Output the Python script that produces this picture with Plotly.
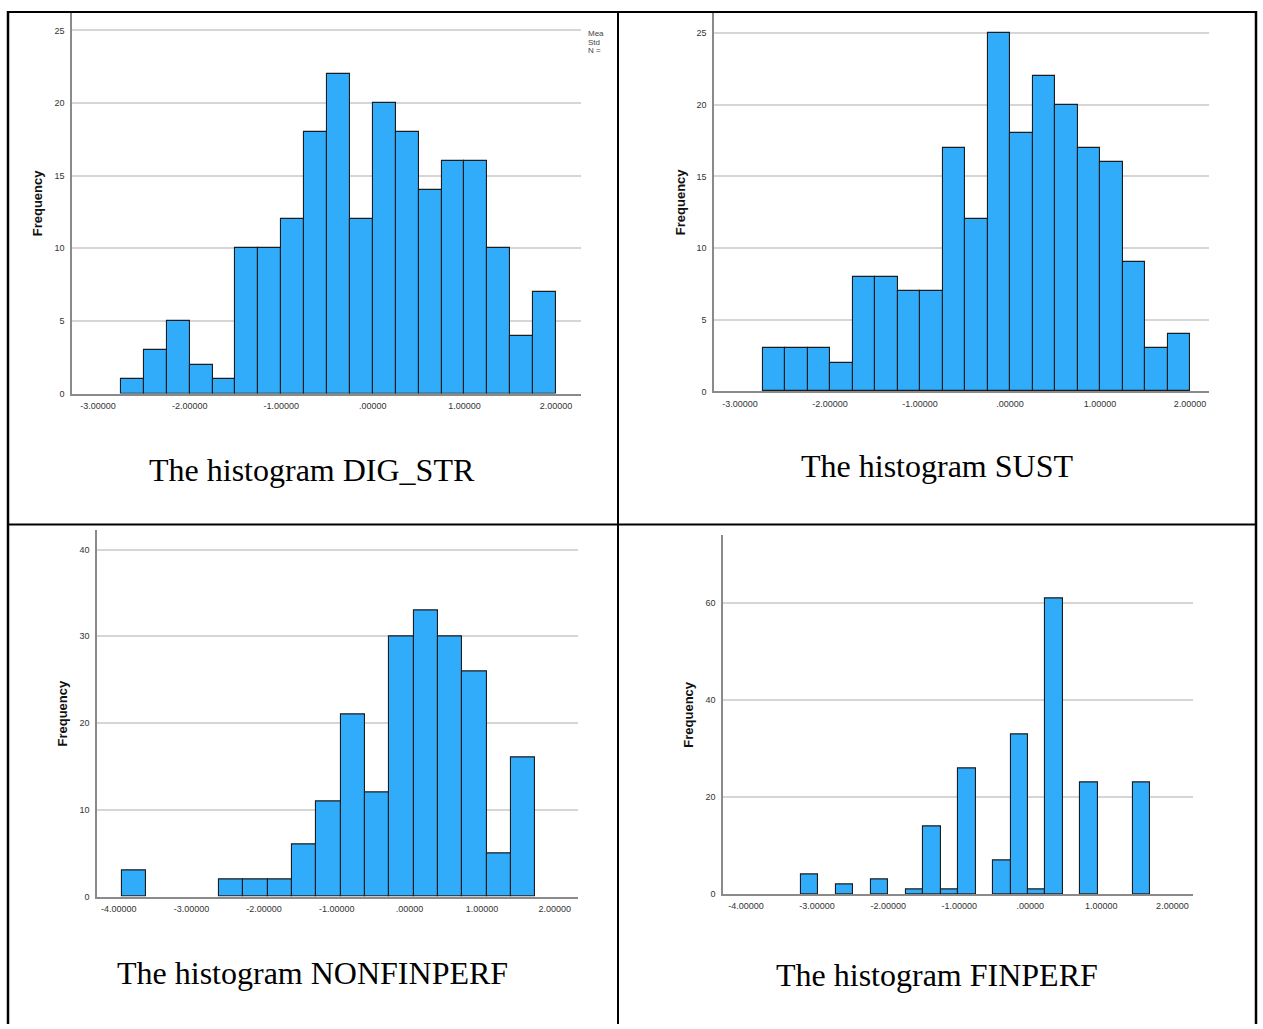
import plotly.graph_objects as go

# ---------------- data ----------------
dig_bin_left = [-2.75, -2.5, -2.25, -2.0, -1.75, -1.5, -1.25, -1.0, -0.75, -0.5,
                -0.25, 0.0, 0.25, 0.5, 0.75, 1.0, 1.25, 1.5, 1.75]
dig_counts = [1, 3, 5, 2, 1, 10, 10, 12, 18, 22, 12, 20, 18, 14, 16, 16, 10, 4, 7]
dig_width = 0.25

sust_bin_left = [-2.75, -2.5, -2.25, -2.0, -1.75, -1.5, -1.25, -1.0, -0.75, -0.5,
                 -0.25, 0.0, 0.25, 0.5, 0.75, 1.0, 1.25, 1.5, 1.75]
sust_counts = [3, 3, 3, 2, 8, 8, 7, 7, 17, 12, 25, 18, 22, 20, 17, 16, 9, 3, 4]
sust_width = 0.25

nonfin_bin_left = [-3.96, -3.625, -3.29, -2.955, -2.62, -2.285, -1.95, -1.615, -1.28,
                   -0.945, -0.61, -0.275, 0.06, 0.395, 0.73, 1.065, 1.40]
nonfin_counts = [3, 0, 0, 0, 2, 2, 2, 6, 11, 21, 12, 30, 33, 30, 26, 5, 16]
nonfin_width = 0.335

fin_bin_left = [-3.23, -2.984, -2.738, -2.492, -2.246, -2.0, -1.754, -1.508, -1.262, -1.016,
                -0.77, -0.524, -0.278, -0.032, 0.214, 0.46, 0.706, 0.952, 1.198, 1.444]
fin_counts = [4, 0, 2, 0, 3, 0, 1, 14, 1, 26, 0, 7, 33, 1, 61, 0, 23, 0, 0, 23]
fin_width = 0.246

x_tick_vals_a = [-3, -2, -1, 0, 1, 2]
x_tick_text_a = ["-3.00000", "-2.00000", "-1.00000", ".00000", "1.00000", "2.00000"]
x_tick_vals_b = [-4, -3, -2, -1, 0, 1, 2]
x_tick_text_b = ["-4.00000", "-3.00000", "-2.00000", "-1.00000", ".00000", "1.00000", "2.00000"]

captions = ["The histogram DIG_STR", "The histogram SUST",
            "The histogram NONFINPERF", "The histogram FINPERF"]
y_label = "Frequency"
legend_stub = ["Mea", "Std", "N ="]

# ---------------- layout helpers ----------------
W, H = 1263, 1029


def fx(px):
    return px / W


def fy(py):
    return 1 - py / H


BAR_COLOR = "#30ACFA"
BAR_LINE = "#1c1c1c"
AXIS_COLOR = "#8a8a8a"
GRID_COLOR = "#d6d6d6"
TICK_FONT = dict(family="Liberation Sans, Arial, sans-serif", size=9, color="#333333")

panels = [
    dict(left=dig_bin_left, counts=dig_counts, w=dig_width,
         px=(72, 581), py=(13, 395.5), xr=[-3.285, 2.273], yr=[0, 26.2], dt=5,
         tv=x_tick_vals_a, tt=x_tick_text_a, ylab_x=37, cap=(312, 472)),
    dict(left=sust_bin_left, counts=sust_counts, w=sust_width,
         px=(714, 1209), py=(13, 393.3), xr=[-3.29, 2.21], yr=[0, 26.4], dt=5,
         tv=x_tick_vals_a, tt=x_tick_text_a, ylab_x=680, cap=(937, 468)),
    dict(left=nonfin_bin_left, counts=nonfin_counts, w=nonfin_width,
         px=(97, 578), py=(533, 901), xr=[-4.30, 2.32], yr=[0, 42.2], dt=10,
         tv=x_tick_vals_b, tt=x_tick_text_b, ylab_x=63, cap=(312, 978)),
    dict(left=fin_bin_left, counts=fin_counts, w=fin_width,
         px=(723, 1193), py=(538, 898.3), xr=[-4.324, 2.29], yr=[0, 74], dt=20,
         tv=x_tick_vals_b, tt=x_tick_text_b, ylab_x=689, cap=(937, 980)),
]

fig = go.Figure()
layout = dict(
    width=W, height=H,
    margin=dict(l=0, r=0, t=0, b=0),
    paper_bgcolor="white", plot_bgcolor="white",
    showlegend=False, bargap=0,
)
annotations = []
shapes = []

for i, p in enumerate(panels, start=1):
    xs = [x for x, c in zip(p["left"], p["counts"]) if c > 0]
    ys = [c for c in p["counts"] if c > 0]
    sfx = "" if i == 1 else str(i)
    fig.add_trace(go.Bar(
        x=xs, y=ys, width=p["w"], offset=0,
        xaxis="x" + sfx, yaxis="y" + sfx,
        marker=dict(color=BAR_COLOR, line=dict(color=BAR_LINE, width=1.1)),
        hoverinfo="x+y",
    ))
    layout["xaxis" + sfx] = dict(
        domain=[fx(p["px"][0]), fx(p["px"][1])],
        anchor="y" + sfx, range=p["xr"],
        tickvals=p["tv"], ticktext=p["tt"],
        showgrid=False, zeroline=False,
        showline=True, linecolor=AXIS_COLOR, linewidth=1.5,
        ticks="", tickfont=TICK_FONT, ticklabelstandoff=3,
    )
    layout["yaxis" + sfx] = dict(
        domain=[fy(p["py"][1]), fy(p["py"][0])],
        anchor="x" + sfx, range=p["yr"], dtick=p["dt"], tick0=0,
        showgrid=True, gridcolor=GRID_COLOR, gridwidth=1.5,
        zeroline=False,
        showline=True, linecolor=AXIS_COLOR, linewidth=1.5,
        ticks="", tickfont=TICK_FONT, ticklabelstandoff=4,
    )
    # y-axis title
    annotations.append(dict(
        text="<b>" + y_label + "</b>", textangle=-90,
        x=fx(p["ylab_x"]), y=fy((p["py"][0] + p["py"][1]) / 2),
        xref="paper", yref="paper", showarrow=False,
        xanchor="center", yanchor="middle",
        font=dict(family="Liberation Sans, Arial, sans-serif", size=13, color="#111111"),
    ))
    # caption
    annotations.append(dict(
        text=captions[i - 1],
        x=fx(p["cap"][0]), y=fy(p["cap"][1]),
        xref="paper", yref="paper", showarrow=False,
        xanchor="center", yanchor="middle",
        font=dict(family="Liberation Serif, Times New Roman, serif", size=32, color="#000000"),
    ))

# clipped SPSS statistics box text (top right of first chart)
for k, t in enumerate(legend_stub):
    annotations.append(dict(
        text=t, x=fx(586), y=fy(34 + k * 8.5),
        xref="paper", yref="paper", showarrow=False,
        xanchor="left", yanchor="middle",
        font=dict(family="Liberation Sans, Arial, sans-serif", size=8, color="#444444"),
    ))


# table borders
def hline(y, x0, x1, w=2):
    return dict(type="line", xref="paper", yref="paper",
                x0=fx(x0), x1=fx(x1), y0=fy(y), y1=fy(y),
                line=dict(color="black", width=w))


def vline(x, y0, y1, w=2):
    return dict(type="line", xref="paper", yref="paper",
                x0=fx(x), x1=fx(x), y0=fy(y0), y1=fy(y1),
                line=dict(color="black", width=w))


shapes += [
    hline(12, 7, 1257),
    hline(527, 7, 1257),
    vline(8, 11, 1029, 2.5),
    vline(618, 11, 1029, 2),
    vline(1256, 11, 1029, 2.5),
]

layout["annotations"] = annotations
layout["shapes"] = shapes
fig.update_layout(**layout)

fig.write_html("out.html")
